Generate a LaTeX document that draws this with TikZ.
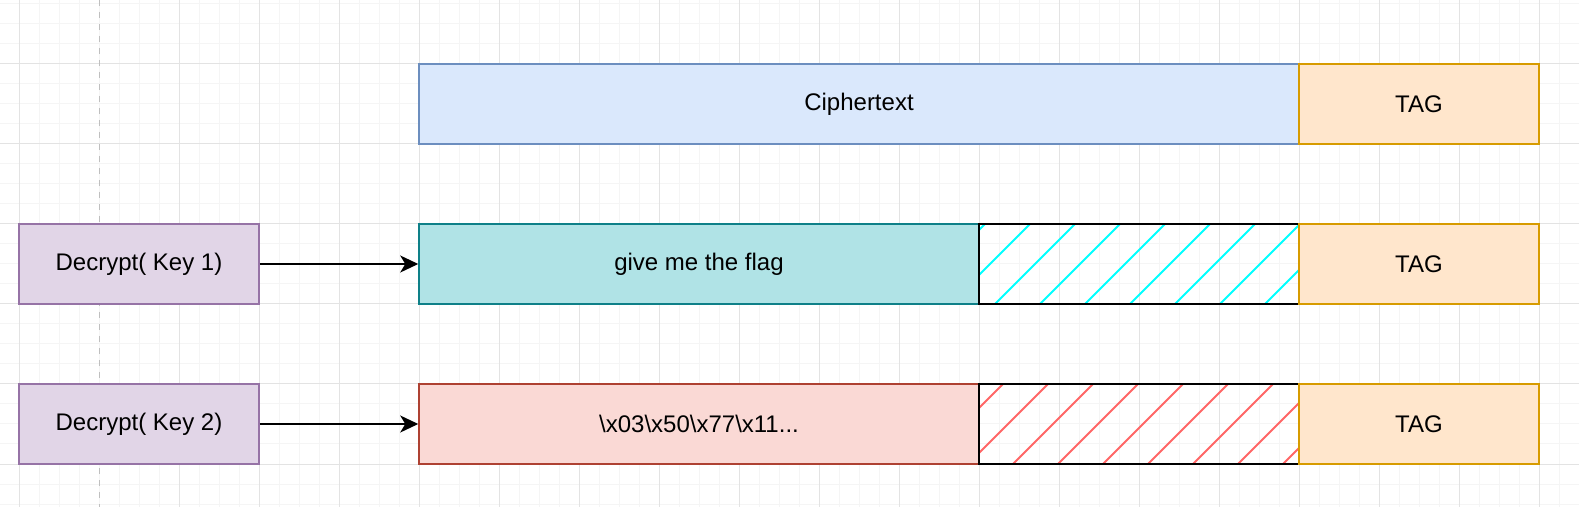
\documentclass[tikz,border=0pt]{standalone}
\usepackage{fontspec}
\setmainfont{Liberation Sans}
\usetikzlibrary{arrows.meta}
\definecolor{cipherfill}{HTML}{DAE8FC}
\definecolor{cipherline}{HTML}{6C8EBF}
\definecolor{tagfill}{HTML}{FFE6CC}
\definecolor{tagline}{HTML}{D79B00}
\definecolor{goodfill}{HTML}{B0E3E6}
\definecolor{goodline}{HTML}{0E8088}
\definecolor{badfill}{HTML}{FAD9D5}
\definecolor{badline}{HTML}{AE4132}
\definecolor{decfill}{HTML}{E1D5E7}
\definecolor{decline}{HTML}{9673A6}
\definecolor{hatchcyan}{HTML}{00FFFF}
\definecolor{hatchred}{HTML}{FF6666}
\definecolor{gridmajor}{HTML}{E3E3E3}
\definecolor{gridminor}{HTML}{F5F5F5}

\begin{document}
\begin{tikzpicture}[x=0.5pt,y=-0.5pt,font=\fontsize{12}{14}\selectfont,
    box/.style={draw,line width=0.75pt,minimum height=40pt,inner sep=0pt},
    tagbox/.style={box,fill=tagfill,draw=tagline,minimum width=120pt},
    decbox/.style={box,fill=decfill,draw=decline,minimum width=120pt},
    hatchbox/.style={box,draw=black,line width=1pt,minimum width=160pt},
    arrow/.style={line width=0.8pt,-{Stealth[length=9pt,width=8.5pt,inset=2.5pt]}}]
    \useasboundingbox (0,0) rectangle (1579,507);
    % grid
    \foreach \x in {19,39,...,1579} \draw[gridminor,line width=0.5pt] (\x,0) -- (\x,507);
    \foreach \y in {4,24,...,504} \draw[gridminor,line width=0.5pt] (0,\y) -- (1579,\y);
    \foreach \x in {19,179,259,...,1579} \draw[gridmajor,line width=0.5pt] (\x,0) -- (\x,507);
    \foreach \y in {64,144,...,464} \draw[gridmajor,line width=0.5pt] (0,\y) -- (1579,\y);
    \draw[black!25,line width=0.5pt,dash pattern=on 3pt off 3pt] (99,0) -- (99,507);
    % encrypted message
    \node[box,fill=cipherfill,draw=cipherline,minimum width=440pt] (cipher) at (859,104) {Ciphertext};
    \node[tagbox] (tag0) at (1419,104) {TAG};
    % key 1
    \node[decbox] (dec1) at (139,264) {Decrypt( Key 1)};
    \node[box,fill=goodfill,draw=goodline,minimum width=280pt] (plain1) at (699,264) {give me the flag};
    \node[hatchbox,path picture={
        \foreach \k in {-74,-29,...,330}
          \draw[hatchcyan,line width=1pt] ([xshift=\k*0.5pt]path picture bounding box.south west) -- ++(50pt,50pt);
      }] (pad1) at (1139,264) {};
    \node[tagbox] (tag1) at (1419,264) {TAG};
    % key 2
    \node[decbox] (dec2) at (139,424) {Decrypt( Key 2)};
    \node[box,fill=badfill,draw=badline,minimum width=280pt] (plain2) at (699,424) {\textbackslash x03\textbackslash x50\textbackslash x77\textbackslash x11...};
    \node[hatchbox,path picture={
        \foreach \k in {-56,-11,...,330}
          \draw[hatchred,line width=1pt] ([xshift=\k*0.5pt]path picture bounding box.south west) -- ++(50pt,50pt);
      }] (pad2) at (1139,424) {};
    \node[tagbox] (tag2) at (1419,424) {TAG};
    % arrows
    \draw[arrow] (dec1) -- (plain1);
    \draw[arrow] (dec2) -- (plain2);
\end{tikzpicture}
\end{document}
